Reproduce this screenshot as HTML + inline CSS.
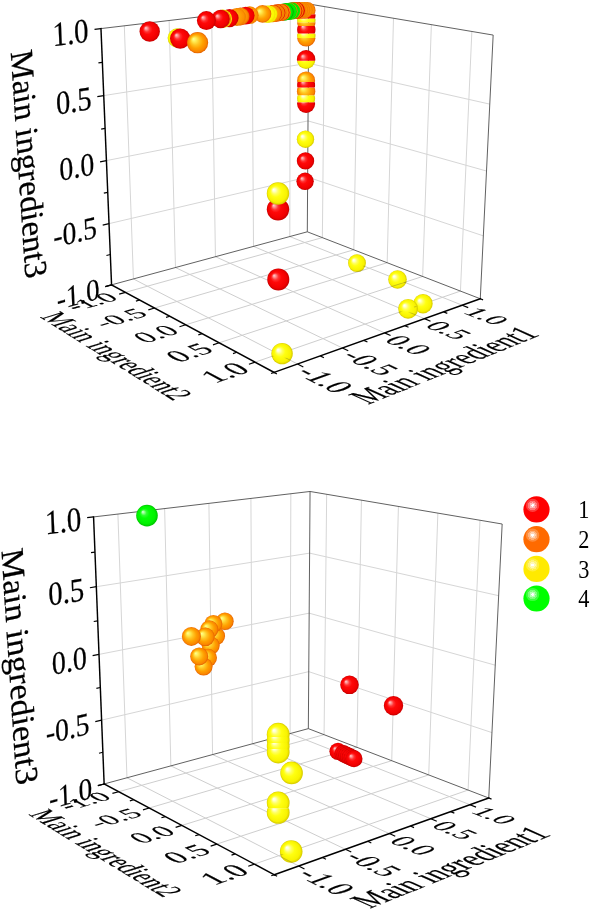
<!DOCTYPE html>
<html><head><meta charset="utf-8"><title>3D scatter</title>
<style>
html,body{margin:0;padding:0;background:#fff}
svg{display:block}
text{font-family:"Liberation Serif",serif;fill:#000;stroke:#000;stroke-width:0.2}
.lg{stroke:none}
.g{stroke:#cecece;stroke-width:1;fill:none}
.w{stroke:#d6d6d6}
.go{stroke:#77702a;stroke-width:1;fill:none;opacity:0.4}
.f{stroke:#444;stroke-width:0.85;fill:none}
.a{stroke:#000;stroke-width:1.45;fill:none;stroke-linecap:square}
.t{stroke:#000;stroke-width:1.2;fill:none}
</style></head><body>
<svg width="590" height="910" viewBox="0 0 590 910">
<defs>
<radialGradient id="gR" cx="0.5" cy="0.5" r="0.5" fx="0.30" fy="0.32"><stop offset="0" stop-color="#ffd4d4"/><stop offset="0.14" stop-color="#ff8c8c"/><stop offset="0.3" stop-color="#ff3232"/><stop offset="0.48" stop-color="#ff0808"/><stop offset="0.85" stop-color="#f00000"/><stop offset="1" stop-color="#c40000"/></radialGradient>
<radialGradient id="gO" cx="0.5" cy="0.5" r="0.5" fx="0.30" fy="0.32"><stop offset="0" stop-color="#ffff98"/><stop offset="0.2" stop-color="#ffec54"/><stop offset="0.42" stop-color="#ffc522"/><stop offset="0.66" stop-color="#ffa000"/><stop offset="0.88" stop-color="#fa8600"/><stop offset="1" stop-color="#e26000"/></radialGradient>
<radialGradient id="gY" cx="0.5" cy="0.5" r="0.5" fx="0.30" fy="0.32"><stop offset="0" stop-color="#ffffff"/><stop offset="0.12" stop-color="#ffffd0"/><stop offset="0.3" stop-color="#ffff60"/><stop offset="0.5" stop-color="#ffff10"/><stop offset="0.85" stop-color="#f8f200"/><stop offset="1" stop-color="#d4c800"/></radialGradient>
<radialGradient id="gG" cx="0.5" cy="0.5" r="0.5" fx="0.30" fy="0.32"><stop offset="0" stop-color="#e0ffe0"/><stop offset="0.1" stop-color="#a0ffa0"/><stop offset="0.26" stop-color="#30ff30"/><stop offset="0.45" stop-color="#04ff04"/><stop offset="0.82" stop-color="#00f200"/><stop offset="1" stop-color="#00c400"/></radialGradient>
<radialGradient id="gRf" cx="0.5" cy="0.5" r="0.5" fx="0.30" fy="0.32"><stop offset="0" stop-color="#ff4040"/><stop offset="0.45" stop-color="#ff0a0a"/><stop offset="0.85" stop-color="#f40000"/><stop offset="1" stop-color="#dc0000"/></radialGradient>
<radialGradient id="gOf" cx="0.5" cy="0.5" r="0.5" fx="0.30" fy="0.32"><stop offset="0" stop-color="#ffc830"/><stop offset="0.45" stop-color="#ffa608"/><stop offset="0.85" stop-color="#fc9000"/><stop offset="1" stop-color="#ee7800"/></radialGradient>
<radialGradient id="gYf" cx="0.5" cy="0.5" r="0.5" fx="0.30" fy="0.32"><stop offset="0" stop-color="#ffff80"/><stop offset="0.45" stop-color="#ffff18"/><stop offset="0.85" stop-color="#fcf800"/><stop offset="1" stop-color="#ece400"/></radialGradient>
<radialGradient id="gGf" cx="0.5" cy="0.5" r="0.5" fx="0.30" fy="0.32"><stop offset="0" stop-color="#60ff60"/><stop offset="0.45" stop-color="#10ff10"/><stop offset="0.85" stop-color="#00f600"/><stop offset="1" stop-color="#00dc00"/></radialGradient>
<radialGradient id="gD" cx="0.5" cy="0.5" r="0.5" fx="0.30" fy="0.32"><stop offset="0" stop-color="#90e890"/><stop offset="0.2" stop-color="#30d030"/><stop offset="0.5" stop-color="#10c010"/><stop offset="1" stop-color="#00a000"/></radialGradient>
<radialGradient id="lh" cx="0.5" cy="0.5" r="0.5"><stop offset="0" stop-color="#fff"/><stop offset="0.2" stop-color="#fff"/><stop offset="0.21" stop-color="#fff" stop-opacity="0.72"/><stop offset="0.45" stop-color="#fff" stop-opacity="0.72"/><stop offset="0.46" stop-color="#fff" stop-opacity="0.48"/><stop offset="0.7" stop-color="#fff" stop-opacity="0.48"/><stop offset="0.71" stop-color="#fff" stop-opacity="0.24"/><stop offset="1" stop-color="#fff" stop-opacity="0.24"/></radialGradient>
<clipPath id="c0"><rect x="295.1" y="102.3" width="22" height="11.7"/></clipPath>
<clipPath id="c1"><rect x="295.1" y="95.3" width="22" height="7"/></clipPath>
<clipPath id="c2"><rect x="294.9" y="87.5" width="22.4" height="7.8"/></clipPath>
<clipPath id="c3"><rect x="295.1" y="82.1" width="22" height="5.4"/></clipPath>
<clipPath id="c4"><rect x="295.1" y="70" width="22" height="12.1"/></clipPath>
<clipPath id="c5"><rect x="294.9" y="60.7" width="22.4" height="9.3"/></clipPath>
<clipPath id="c6"><rect x="294.9" y="49" width="22.4" height="11.7"/></clipPath>
<clipPath id="c7"><rect x="295.1" y="38" width="22.4" height="9"/></clipPath>
<clipPath id="c8"><rect x="295.1" y="33.5" width="22.4" height="4.5"/></clipPath>
<clipPath id="c9"><rect x="295.1" y="26.1" width="22.4" height="7.4"/></clipPath>
<clipPath id="c10"><rect x="295.1" y="22.2" width="22.4" height="3.9"/></clipPath>
<clipPath id="c11"><rect x="295.1" y="18.5" width="22.4" height="3.7"/></clipPath>
<clipPath id="c12"><rect x="295.1" y="14.2" width="22.4" height="4.3"/></clipPath>
<clipPath id="c13"><rect x="296.9" y="0" width="20.6" height="14.2"/></clipPath>
<clipPath id="c14"><path d="M348.05 263.1 A8.95 8.95 0 0 0 365.95 263.1 A8.95 3.58 0 0 1 348.05 263.1 Z"/></clipPath>
<clipPath id="c15"><path d="M388.2 279.5 A9.3 9.3 0 0 0 406.8 279.5 A9.3 3.72 0 0 1 388.2 279.5 Z"/></clipPath>
<clipPath id="c16"><path d="M413.3 303.7 A9.7 9.7 0 0 0 432.7 303.7 A9.7 3.88 0 0 1 413.3 303.7 Z"/></clipPath>
<clipPath id="c17"><path d="M398.2 308.8 A9.9 9.9 0 0 0 418 308.8 A9.9 3.96 0 0 1 398.2 308.8 Z"/></clipPath>
<clipPath id="c18"><path d="M271.4 353.6 A10.7 10.7 0 0 0 292.8 353.6 A10.7 4.28 0 0 1 271.4 353.6 Z"/></clipPath>
<clipPath id="c19"><rect x="264.8" y="749" width="26.8" height="16"/></clipPath>
<clipPath id="c20"><rect x="264.8" y="743" width="26.8" height="6"/></clipPath>
<clipPath id="c21"><rect x="264.8" y="737.1" width="26.8" height="5.9"/></clipPath>
<clipPath id="c22"><rect x="264.8" y="720" width="26.8" height="17.1"/></clipPath>
<clipPath id="c23"><rect x="264.8" y="808.2" width="26.8" height="17.8"/></clipPath>
<clipPath id="c24"><rect x="264.8" y="790" width="26.8" height="18.2"/></clipPath>
<clipPath id="c25"><path d="M280.3 772.9 A11.3 11.3 0 0 0 302.9 772.9 A11.3 4.52 0 0 1 280.3 772.9 Z"/></clipPath>
<clipPath id="c26"><path d="M279.9 851.5 A11.3 11.3 0 0 0 302.5 851.5 A11.3 4.52 0 0 1 279.9 851.5 Z"/></clipPath>
</defs>
<rect width="590" height="910" fill="#fff"/>
<line class="g" x1="297.55" y1="364.01" x2="133.42" y2="278.93"/>
<line class="g" x1="125.42" y1="292.32" x2="322.36" y2="237.63"/>
<line class="g w" x1="133.42" y1="278.93" x2="124.32" y2="25.81"/>
<line class="g w" x1="322.36" y1="237.63" x2="324.67" y2="6.65"/>
<line class="g" x1="342.4" y1="347.99" x2="175.47" y2="267.53"/>
<line class="g" x1="154.56" y1="308.01" x2="353.8" y2="249.8"/>
<line class="g w" x1="175.47" y1="267.53" x2="169.14" y2="20.5"/>
<line class="g w" x1="353.8" y1="249.8" x2="358" y2="12.27"/>
<line class="g" x1="384.64" y1="332.9" x2="215.45" y2="256.7"/>
<line class="g" x1="185.72" y1="324.8" x2="387.17" y2="262.72"/>
<line class="g w" x1="215.45" y1="256.7" x2="211.63" y2="15.47"/>
<line class="g w" x1="387.17" y1="262.72" x2="393.49" y2="18.25"/>
<line class="g" x1="424.51" y1="318.66" x2="253.52" y2="246.38"/>
<line class="g" x1="219.15" y1="342.8" x2="422.65" y2="276.45"/>
<line class="g w" x1="253.52" y1="246.38" x2="251.96" y2="10.69"/>
<line class="g w" x1="422.65" y1="276.45" x2="431.36" y2="24.64"/>
<line class="g" x1="462.19" y1="305.2" x2="289.79" y2="236.55"/>
<line class="g" x1="255.08" y1="362.16" x2="460.44" y2="291.07"/>
<line class="g w" x1="289.79" y1="236.55" x2="290.3" y2="6.15"/>
<line class="g w" x1="460.44" y1="291.07" x2="471.85" y2="31.47"/>
<line class="g w" x1="109.03" y1="223.65" x2="307.65" y2="177.1"/>
<line class="g w" x1="307.65" y1="177.1" x2="483.34" y2="235.87"/>
<line class="g w" x1="106.43" y1="160.6" x2="308.01" y2="120.93"/>
<line class="g w" x1="308.01" y1="120.93" x2="486.51" y2="171.03"/>
<line class="g w" x1="103.74" y1="95.6" x2="308.38" y2="63.24"/>
<line class="g w" x1="308.38" y1="63.24" x2="489.78" y2="104.13"/>
<line class="f" x1="111.56" y1="284.85" x2="307.3" y2="231.81"/>
<line class="f" x1="307.3" y1="231.81" x2="480.27" y2="298.75"/>
<line class="f" x1="307.3" y1="231.81" x2="308.76" y2="3.96"/>
<line class="f" x1="100.97" y1="28.58" x2="308.76" y2="3.96"/>
<line class="f" x1="308.76" y1="3.96" x2="493.16" y2="35.07"/>
<line class="f" x1="493.16" y1="35.07" x2="480.27" y2="298.75"/>
<circle cx="305.1" cy="181.3" r="8.7" fill="url(#gR)"/>
<circle cx="305.5" cy="160.9" r="8.7" fill="url(#gR)"/>
<circle cx="305.5" cy="139.2" r="8.7" fill="url(#gY)"/>
<circle cx="306.1" cy="104" r="9" fill="url(#gR)" clip-path="url(#c0)"/>
<circle cx="306.1" cy="98.5" r="9" fill="url(#gY)" clip-path="url(#c1)"/>
<circle cx="306.1" cy="91.2" r="9.2" fill="url(#gO)" clip-path="url(#c2)"/>
<circle cx="306.1" cy="85" r="9" fill="url(#gR)" clip-path="url(#c3)"/>
<circle cx="306.1" cy="80.4" r="9" fill="url(#gO)" clip-path="url(#c4)"/>
<circle cx="306.1" cy="59.8" r="9.2" fill="url(#gY)" clip-path="url(#c5)"/>
<circle cx="306.1" cy="59.3" r="9.2" fill="url(#gR)" clip-path="url(#c6)"/>
<circle cx="306.3" cy="37.4" r="9.2" fill="url(#gO)" clip-path="url(#c7)"/>
<circle cx="306.3" cy="35.6" r="9.2" fill="url(#gY)" clip-path="url(#c8)"/>
<circle cx="306.3" cy="29.7" r="9.2" fill="url(#gR)" clip-path="url(#c9)"/>
<circle cx="306.3" cy="22" r="9.2" fill="url(#gO)" clip-path="url(#c10)"/>
<circle cx="306.3" cy="20" r="9.2" fill="url(#gY)" clip-path="url(#c11)"/>
<circle cx="306.3" cy="15.5" r="9.2" fill="url(#gR)" clip-path="url(#c12)"/>
<circle cx="307.2" cy="10.2" r="8.3" fill="url(#gO)" clip-path="url(#c13)"/>
<circle cx="304.5" cy="10.2" r="8.3" fill="url(#gOf)"/>
<circle cx="302" cy="10.2" r="8.3" fill="url(#gOf)"/>
<circle cx="299.8" cy="10.3" r="8.4" fill="url(#gOf)"/>
<circle cx="297.8" cy="10.4" r="8.4" fill="url(#gOf)"/>
<circle cx="296.5" cy="10.45" r="8.4" fill="url(#gRf)"/>
<circle cx="295.3" cy="10.5" r="8.5" fill="url(#gOf)"/>
<circle cx="293.9" cy="10.7" r="8.5" fill="url(#gRf)"/>
<circle cx="293.2" cy="10.8" r="8.5" fill="url(#gOf)"/>
<circle cx="291.6" cy="11" r="8.5" fill="url(#gGf)"/>
<circle cx="290.3" cy="11.2" r="8.5" fill="url(#gGf)"/>
<circle cx="289.1" cy="11.3" r="8.5" fill="url(#gOf)"/>
<circle cx="288.5" cy="11.4" r="8.5" fill="url(#gGf)"/>
<circle cx="286.6" cy="11.7" r="8.5" fill="url(#gGf)"/>
<circle cx="285.2" cy="11.9" r="8.5" fill="url(#gD)"/>
<circle cx="284.4" cy="12" r="8.5" fill="url(#gGf)"/>
<circle cx="282.4" cy="12.3" r="8.5" fill="url(#gOf)"/>
<circle cx="281" cy="12.5" r="8.5" fill="url(#gRf)"/>
<circle cx="280.5" cy="12.6" r="8.5" fill="url(#gOf)"/>
<circle cx="278.5" cy="12.9" r="8.5" fill="url(#gOf)"/>
<circle cx="276.9" cy="13" r="8.5" fill="url(#gRf)"/>
<circle cx="276.3" cy="13.1" r="8.5" fill="url(#gOf)"/>
<circle cx="275" cy="13.3" r="8.5" fill="url(#gOf)"/>
<circle cx="273.5" cy="13.5" r="8.5" fill="url(#gRf)"/>
<circle cx="272.9" cy="13.6" r="8.6" fill="url(#gOf)"/>
<circle cx="268.8" cy="14.1" r="8.6" fill="url(#gYf)"/>
<circle cx="266.8" cy="14.2" r="8.6" fill="url(#gYf)"/>
<circle cx="262.5" cy="13.9" r="8.8" fill="url(#gO)"/>
<circle cx="249.7" cy="15.2" r="8.9" fill="url(#gOf)"/>
<circle cx="245.7" cy="15.6" r="8.9" fill="url(#gRf)"/>
<circle cx="240.5" cy="16.4" r="9" fill="url(#gO)"/>
<circle cx="236.9" cy="17" r="9" fill="url(#gOf)"/>
<circle cx="229.5" cy="18.1" r="9.1" fill="url(#gR)"/>
<circle cx="223" cy="18.7" r="9.1" fill="url(#gYf)"/>
<circle cx="222" cy="18.85" r="9.1" fill="url(#gOf)"/>
<circle cx="220.6" cy="19" r="9.2" fill="url(#gR)"/>
<circle cx="206.4" cy="20.6" r="9.5" fill="url(#gR)"/>
<circle cx="177.3" cy="38" r="9.7" fill="url(#gY)"/>
<circle cx="180.2" cy="38.6" r="10.2" fill="url(#gR)"/>
<circle cx="197.6" cy="42.7" r="10.6" fill="url(#gO)"/>
<circle cx="149.7" cy="31.5" r="10.2" fill="url(#gR)"/>
<circle cx="278" cy="209.3" r="11.2" fill="url(#gR)"/>
<circle cx="278" cy="193.5" r="11.2" fill="url(#gY)"/>
<circle cx="357" cy="263.1" r="8.95" fill="url(#gY)"/>
<circle cx="397.5" cy="279.5" r="9.3" fill="url(#gY)"/>
<circle cx="423" cy="303.7" r="9.7" fill="url(#gY)"/>
<circle cx="408.1" cy="308.8" r="9.9" fill="url(#gY)"/>
<circle cx="278.3" cy="279.4" r="11" fill="url(#gR)"/>
<circle cx="282.1" cy="353.6" r="10.7" fill="url(#gY)"/>
<g clip-path="url(#c14)">
<line class="go" x1="185.72" y1="324.8" x2="387.17" y2="262.72"/>
<line class="go" x1="462.19" y1="305.2" x2="289.79" y2="236.55"/>
</g>
<g clip-path="url(#c15)">
<line class="go" x1="219.15" y1="342.8" x2="422.65" y2="276.45"/>
<line class="go" x1="462.19" y1="305.2" x2="289.79" y2="236.55"/>
</g>
<g clip-path="url(#c16)">
<line class="go" x1="255.08" y1="362.16" x2="460.44" y2="291.07"/>
</g>
<g clip-path="url(#c17)">
<line class="go" x1="424.51" y1="318.66" x2="253.52" y2="246.38"/>
<line class="go" x1="255.08" y1="362.16" x2="460.44" y2="291.07"/>
</g>
<g clip-path="url(#c18)">
<line class="go" x1="297.55" y1="364.01" x2="133.42" y2="278.93"/>
<line class="go" x1="255.08" y1="362.16" x2="460.44" y2="291.07"/>
</g>
<line class="a" x1="100.97" y1="28.58" x2="111.56" y2="284.85"/>
<line class="a" x1="111.56" y1="284.85" x2="274.08" y2="372.4"/>
<line class="a" x1="274.08" y1="372.4" x2="480.27" y2="298.75"/>
<line class="t" x1="111.56" y1="284.85" x2="105.29" y2="286.55"/>
<line class="t" x1="125.42" y1="292.32" x2="119.16" y2="294.05"/>
<line class="t" x1="297.55" y1="364.01" x2="303.32" y2="367"/>
<line class="t" x1="110.31" y1="254.48" x2="106.43" y2="255.46"/>
<line class="t" x1="139.75" y1="300.03" x2="135.9" y2="301.13"/>
<line class="t" x1="320.31" y1="355.88" x2="323.89" y2="357.67"/>
<line class="t" x1="109.03" y1="223.65" x2="102.7" y2="225.14"/>
<line class="t" x1="154.56" y1="308.01" x2="148.32" y2="309.83"/>
<line class="t" x1="342.4" y1="347.99" x2="348.25" y2="350.82"/>
<line class="t" x1="107.74" y1="192.36" x2="103.83" y2="193.21"/>
<line class="t" x1="169.87" y1="316.26" x2="166.04" y2="317.41"/>
<line class="t" x1="363.83" y1="340.34" x2="367.46" y2="342.03"/>
<line class="t" x1="106.43" y1="160.6" x2="100.05" y2="161.85"/>
<line class="t" x1="185.72" y1="324.8" x2="179.51" y2="326.71"/>
<line class="t" x1="384.64" y1="332.9" x2="390.57" y2="335.57"/>
<line class="t" x1="105.09" y1="128.35" x2="101.16" y2="129.05"/>
<line class="t" x1="202.14" y1="333.64" x2="198.32" y2="334.85"/>
<line class="t" x1="404.86" y1="325.68" x2="408.53" y2="327.28"/>
<line class="t" x1="103.74" y1="95.6" x2="97.32" y2="96.62"/>
<line class="t" x1="219.15" y1="342.8" x2="212.97" y2="344.82"/>
<line class="t" x1="424.51" y1="318.66" x2="430.5" y2="321.2"/>
<line class="t" x1="102.37" y1="62.35" x2="98.4" y2="62.9"/>
<line class="t" x1="236.78" y1="352.3" x2="232.99" y2="353.58"/>
<line class="t" x1="443.61" y1="311.84" x2="447.31" y2="313.36"/>
<line class="t" x1="100.97" y1="28.58" x2="94.52" y2="29.34"/>
<line class="t" x1="255.08" y1="362.16" x2="248.94" y2="364.29"/>
<line class="t" x1="462.19" y1="305.2" x2="468.23" y2="307.61"/>
<line class="t" x1="111.56" y1="284.85" x2="105.29" y2="286.55"/>
<line class="t" x1="274.08" y1="372.4" x2="271.07" y2="373.47"/>
<line class="t" x1="274.08" y1="372.4" x2="276.9" y2="373.92"/>
<line class="t" x1="480.27" y1="298.75" x2="483.07" y2="299.83"/>
<text transform="matrix(0.9646 -0.2614 0.0450 1.0896 99.93 298.68)" font-size="28" text-anchor="end">-1.0</text>
<text transform="matrix(0.9805 -0.2298 0.0464 1.1224 97.31 237.38)" font-size="28" text-anchor="end">-0.5</text>
<text transform="matrix(0.9969 -0.1962 0.0478 1.1568 94.62 174.2)" font-size="28" text-anchor="end">0.0</text>
<text transform="matrix(1.0139 -0.1604 0.0493 1.1927 91.87 109.08)" font-size="28" text-anchor="end">0.5</text>
<text transform="matrix(1.0315 -0.1222 0.0508 1.2303 89.05 41.91)" font-size="28" text-anchor="end">1.0</text>
<text transform="matrix(0.9883 -0.2744 0.6944 0.3741 119.8 299.12)" font-size="28" text-anchor="end">-1.0</text>
<text transform="matrix(1.0039 -0.2933 0.7420 0.3998 149.41 315.21)" font-size="28" text-anchor="end">-0.5</text>
<text transform="matrix(1.0193 -0.3141 0.7948 0.4282 181.12 332.44)" font-size="28" text-anchor="end">0.0</text>
<text transform="matrix(1.0343 -0.3373 0.8534 0.4597 215.15 350.93)" font-size="28" text-anchor="end">0.5</text>
<text transform="matrix(1.0488 -0.3631 0.9187 0.4949 251.76 370.82)" font-size="28" text-anchor="end">1.0</text>
<text transform="matrix(0.9225 0.4782 -1.0730 0.3833 294.63 372.83)" font-size="28" text-anchor="start">-1.0</text>
<text transform="matrix(0.9337 0.4501 -1.0099 0.3607 340.19 356.34)" font-size="28" text-anchor="start">-0.5</text>
<text transform="matrix(0.9421 0.4244 -0.9522 0.3401 383.08 340.83)" font-size="28" text-anchor="start">0.0</text>
<text transform="matrix(0.9481 0.4008 -0.8993 0.3212 423.53 326.2)" font-size="28" text-anchor="start">0.5</text>
<text transform="matrix(0.9521 0.3791 -0.8508 0.3039 461.74 312.38)" font-size="28" text-anchor="start">1.0</text>
<text transform="matrix(0.8908 -0.3599 1.1364 0.5119 454.4 370)" font-size="28" text-anchor="middle">Main ingredient1</text>
<text transform="matrix(0.6928 0.4346 -1.0957 0.3371 106.6 359)" font-size="28" text-anchor="middle">Main ingredient2</text>
<text transform="matrix(0.0759 1.1740 -1.1495 0.2255 18.2 166.15)" font-size="28" text-anchor="middle">Main ingredient3</text>
<line class="g" x1="298.7" y1="865.97" x2="126.96" y2="777.78"/>
<line class="g" x1="118.68" y1="791.71" x2="324.07" y2="734.67"/>
<line class="g w" x1="126.96" y1="777.78" x2="117.92" y2="514.07"/>
<line class="g w" x1="324.07" y1="734.67" x2="326.67" y2="494.29"/>
<line class="g" x1="345.38" y1="849.28" x2="170.85" y2="765.88"/>
<line class="g" x1="149.21" y1="808" x2="356.91" y2="747.3"/>
<line class="g w" x1="170.85" y1="765.88" x2="164.64" y2="508.57"/>
<line class="g w" x1="356.91" y1="747.3" x2="361.44" y2="500.18"/>
<line class="g" x1="389.33" y1="833.56" x2="212.57" y2="754.58"/>
<line class="g" x1="181.85" y1="825.41" x2="391.73" y2="760.69"/>
<line class="g w" x1="212.57" y1="754.58" x2="208.91" y2="503.37"/>
<line class="g w" x1="391.73" y1="760.69" x2="398.43" y2="506.44"/>
<line class="g" x1="430.79" y1="818.73" x2="252.27" y2="743.82"/>
<line class="g" x1="216.83" y1="844.07" x2="428.72" y2="774.92"/>
<line class="g w" x1="252.27" y1="743.82" x2="250.92" y2="498.43"/>
<line class="g w" x1="428.72" y1="774.92" x2="437.86" y2="513.11"/>
<line class="g" x1="469.96" y1="804.72" x2="290.09" y2="733.57"/>
<line class="g" x1="254.41" y1="864.12" x2="468.1" y2="790.06"/>
<line class="g w" x1="290.09" y1="733.57" x2="290.84" y2="493.74"/>
<line class="g w" x1="468.1" y1="790.06" x2="479.99" y2="520.25"/>
<line class="g w" x1="101.61" y1="720.14" x2="308.76" y2="671.64"/>
<line class="g w" x1="308.76" y1="671.64" x2="491.95" y2="732.6"/>
<line class="g w" x1="99.01" y1="654.42" x2="309.18" y2="613.16"/>
<line class="g w" x1="309.18" y1="613.16" x2="495.25" y2="665.19"/>
<line class="g w" x1="96.33" y1="586.71" x2="309.61" y2="553.13"/>
<line class="g w" x1="309.61" y1="553.13" x2="498.65" y2="595.69"/>
<line class="f" x1="104.14" y1="783.96" x2="308.34" y2="728.63"/>
<line class="f" x1="308.34" y1="728.63" x2="488.75" y2="798"/>
<line class="f" x1="308.34" y1="728.63" x2="310.06" y2="491.48"/>
<line class="f" x1="93.57" y1="516.93" x2="310.06" y2="491.48"/>
<line class="f" x1="310.06" y1="491.48" x2="502.16" y2="524"/>
<line class="f" x1="502.16" y1="524" x2="488.75" y2="798"/>
<circle cx="147" cy="515.6" r="10.8" fill="url(#gG)"/>
<circle cx="224.9" cy="621.2" r="8.8" fill="url(#gO)"/>
<circle cx="216.1" cy="636.1" r="9" fill="url(#gO)"/>
<circle cx="213.4" cy="623.9" r="9" fill="url(#gO)"/>
<circle cx="209.3" cy="629.3" r="9" fill="url(#gO)"/>
<circle cx="210.7" cy="645.6" r="9" fill="url(#gO)"/>
<circle cx="208" cy="657.8" r="9" fill="url(#gO)"/>
<circle cx="203.6" cy="666.6" r="9" fill="url(#gO)"/>
<circle cx="205.3" cy="636.8" r="9.3" fill="url(#gO)"/>
<circle cx="199.2" cy="656.4" r="9" fill="url(#gO)"/>
<circle cx="191.4" cy="636.4" r="9.5" fill="url(#gO)"/>
<circle cx="349.5" cy="684.8" r="9.3" fill="url(#gR)"/>
<circle cx="393.5" cy="705.7" r="9.7" fill="url(#gR)"/>
<circle cx="338" cy="751.3" r="8.6" fill="url(#gR)"/>
<circle cx="343" cy="753.6" r="8.5" fill="url(#gR)"/>
<circle cx="344.83" cy="754.47" r="8.5" fill="url(#gR)"/>
<circle cx="346.67" cy="755.33" r="8.5" fill="url(#gR)"/>
<circle cx="348.5" cy="756.2" r="8.5" fill="url(#gR)"/>
<circle cx="350.33" cy="757.07" r="8.5" fill="url(#gR)"/>
<circle cx="352.17" cy="757.93" r="8.5" fill="url(#gR)"/>
<circle cx="354" cy="758.8" r="8.5" fill="url(#gR)"/>
<circle cx="278.2" cy="752" r="11.4" fill="url(#gY)" clip-path="url(#c19)"/>
<circle cx="278.2" cy="746" r="11.4" fill="url(#gY)" clip-path="url(#c20)"/>
<circle cx="278.2" cy="740" r="11.4" fill="url(#gY)" clip-path="url(#c21)"/>
<circle cx="278.2" cy="734.2" r="11.4" fill="url(#gY)" clip-path="url(#c22)"/>
<circle cx="291.6" cy="772.9" r="11.3" fill="url(#gY)"/>
<circle cx="278.2" cy="812.4" r="11.4" fill="url(#gY)" clip-path="url(#c23)"/>
<circle cx="278.2" cy="802.9" r="11.4" fill="url(#gY)" clip-path="url(#c24)"/>
<circle cx="291.2" cy="851.5" r="11.3" fill="url(#gY)"/>
<g clip-path="url(#c25)">
<line class="go" x1="149.21" y1="808" x2="356.91" y2="747.3"/>
<line class="go" x1="430.79" y1="818.73" x2="252.27" y2="743.82"/>
</g>
<g clip-path="url(#c26)">
<line class="go" x1="298.7" y1="865.97" x2="126.96" y2="777.78"/>
<line class="go" x1="254.41" y1="864.12" x2="468.1" y2="790.06"/>
</g>
<line class="a" x1="93.57" y1="516.93" x2="104.14" y2="783.96"/>
<line class="a" x1="104.14" y1="783.96" x2="274.27" y2="874.71"/>
<line class="a" x1="274.27" y1="874.71" x2="488.75" y2="798"/>
<line class="t" x1="104.14" y1="783.96" x2="97.87" y2="785.66"/>
<line class="t" x1="118.68" y1="791.71" x2="112.41" y2="793.45"/>
<line class="t" x1="298.7" y1="865.97" x2="304.49" y2="868.94"/>
<line class="t" x1="102.89" y1="752.28" x2="99.01" y2="753.26"/>
<line class="t" x1="133.69" y1="799.72" x2="129.84" y2="800.82"/>
<line class="t" x1="322.4" y1="857.5" x2="325.98" y2="859.27"/>
<line class="t" x1="101.61" y1="720.14" x2="95.28" y2="721.62"/>
<line class="t" x1="149.21" y1="808" x2="142.97" y2="809.82"/>
<line class="t" x1="345.38" y1="849.28" x2="351.24" y2="852.08"/>
<line class="t" x1="100.32" y1="687.52" x2="96.41" y2="688.36"/>
<line class="t" x1="165.25" y1="816.56" x2="161.42" y2="817.71"/>
<line class="t" x1="367.68" y1="841.3" x2="371.31" y2="842.98"/>
<line class="t" x1="99.01" y1="654.42" x2="92.63" y2="655.67"/>
<line class="t" x1="181.85" y1="825.41" x2="175.64" y2="827.33"/>
<line class="t" x1="389.33" y1="833.56" x2="395.26" y2="836.21"/>
<line class="t" x1="97.68" y1="620.82" x2="93.74" y2="621.51"/>
<line class="t" x1="199.03" y1="834.58" x2="195.22" y2="835.79"/>
<line class="t" x1="410.35" y1="826.04" x2="414.03" y2="827.63"/>
<line class="t" x1="96.33" y1="586.71" x2="89.91" y2="587.72"/>
<line class="t" x1="216.83" y1="844.07" x2="210.65" y2="846.09"/>
<line class="t" x1="430.79" y1="818.73" x2="436.78" y2="821.25"/>
<line class="t" x1="94.96" y1="552.09" x2="91" y2="552.63"/>
<line class="t" x1="235.28" y1="853.91" x2="231.49" y2="855.19"/>
<line class="t" x1="450.65" y1="811.63" x2="454.35" y2="813.14"/>
<line class="t" x1="93.57" y1="516.93" x2="87.12" y2="517.69"/>
<line class="t" x1="254.41" y1="864.12" x2="248.27" y2="866.25"/>
<line class="t" x1="469.96" y1="804.72" x2="476.01" y2="807.11"/>
<line class="t" x1="104.14" y1="783.96" x2="97.87" y2="785.66"/>
<line class="t" x1="274.27" y1="874.71" x2="271.25" y2="875.79"/>
<line class="t" x1="274.27" y1="874.71" x2="277.09" y2="876.22"/>
<line class="t" x1="488.75" y1="798" x2="491.55" y2="799.08"/>
<text transform="matrix(0.9690 -0.2626 0.0433 1.0935 92.49 797.83)" font-size="28" text-anchor="end">-1.0</text>
<text transform="matrix(0.9847 -0.2305 0.0446 1.1258 89.87 733.89)" font-size="28" text-anchor="end">-0.5</text>
<text transform="matrix(1.0008 -0.1965 0.0459 1.1596 87.19 668.04)" font-size="28" text-anchor="end">0.0</text>
<text transform="matrix(1.0175 -0.1602 0.0473 1.1949 84.44 600.2)" font-size="28" text-anchor="end">0.5</text>
<text transform="matrix(1.0347 -0.1216 0.0488 1.2318 81.63 530.27)" font-size="28" text-anchor="end">1.0</text>
<text transform="matrix(0.9925 -0.2756 0.7003 0.3736 113.1 798.51)" font-size="28" text-anchor="end">-1.0</text>
<text transform="matrix(1.0077 -0.2945 0.7479 0.3990 144.12 815.19)" font-size="28" text-anchor="end">-0.5</text>
<text transform="matrix(1.0225 -0.3153 0.8005 0.4270 177.3 833.04)" font-size="28" text-anchor="end">0.0</text>
<text transform="matrix(1.0370 -0.3384 0.8589 0.4582 212.88 852.18)" font-size="28" text-anchor="end">0.5</text>
<text transform="matrix(1.0508 -0.3642 0.9239 0.4929 251.14 872.77)" font-size="28" text-anchor="end">1.0</text>
<text transform="matrix(0.9269 0.4760 -1.0745 0.3843 295.79 874.76)" font-size="28" text-anchor="start">-1.0</text>
<text transform="matrix(0.9374 0.4480 -1.0109 0.3616 343.17 857.6)" font-size="28" text-anchor="start">-0.5</text>
<text transform="matrix(0.9452 0.4224 -0.9528 0.3408 387.77 841.46)" font-size="28" text-anchor="start">0.0</text>
<text transform="matrix(0.9506 0.3989 -0.8996 0.3218 429.81 826.25)" font-size="28" text-anchor="start">0.5</text>
<text transform="matrix(0.9539 0.3773 -0.8507 0.3043 469.52 811.88)" font-size="28" text-anchor="start">1.0</text>
<text transform="matrix(0.9404 -0.3800 1.1723 0.5281 461.1 872)" font-size="28" text-anchor="middle">Main ingredient1</text>
<text transform="matrix(0.7019 0.4301 -1.0957 0.3371 95.85 856.2)" font-size="28" text-anchor="middle">Main ingredient2</text>
<text transform="matrix(0.0786 1.2153 -1.1495 0.2255 9 668.7)" font-size="28" text-anchor="middle">Main ingredient3</text>
<circle cx="536.5" cy="509.4" r="13.1" fill="#ff0000"/>
<circle cx="532.6" cy="505.4" r="6.6" fill="url(#lh)"/>
<text class="lg" transform="translate(578.3 518) scale(0.93 1.08)" font-size="24">1</text>
<circle cx="536.5" cy="539.2" r="13.1" fill="#ff6a00"/>
<circle cx="532.6" cy="535.2" r="6.6" fill="url(#lh)"/>
<text class="lg" transform="translate(578.3 547.8) scale(0.93 1.08)" font-size="24">2</text>
<circle cx="536.5" cy="568.9" r="13.1" fill="#ffea00"/>
<circle cx="532.6" cy="564.9" r="6.6" fill="url(#lh)"/>
<text class="lg" transform="translate(578.3 577.5) scale(0.93 1.08)" font-size="24">3</text>
<circle cx="536.5" cy="598.5" r="13.1" fill="#00ff00"/>
<circle cx="532.6" cy="594.5" r="6.6" fill="url(#lh)"/>
<text class="lg" transform="translate(578.3 607.1) scale(0.93 1.08)" font-size="24">4</text>
</svg>
</body></html>
